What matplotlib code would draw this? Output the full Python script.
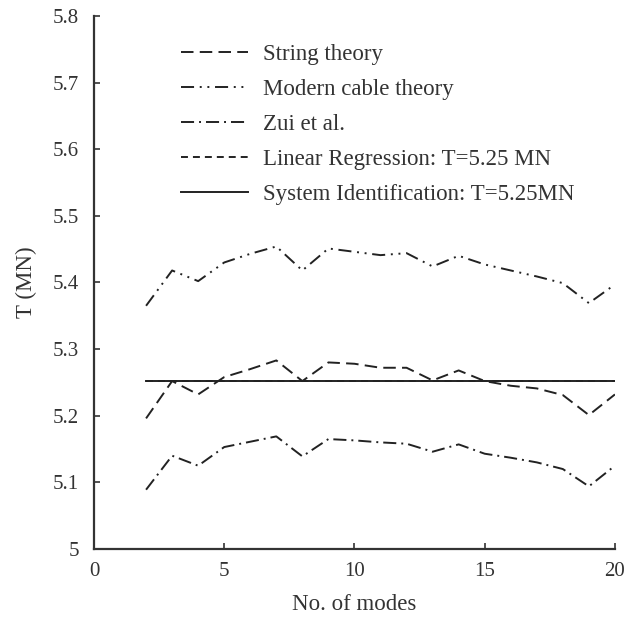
import matplotlib
matplotlib.use("Agg")
import matplotlib.pyplot as plt

plt.rcParams['font.family'] = ['Liberation Serif', 'DejaVu Serif']
plt.rcParams['lines.scale_dashes'] = False

# data
modes = [2, 3, 4, 5, 6, 7, 8, 9, 10, 11, 12, 13, 14, 15, 16, 17, 18, 19, 20]
string_theory = [5.196, 5.252, 5.232, 5.258, 5.270, 5.283, 5.252, 5.280, 5.278, 5.272, 5.272,
                 5.253, 5.268, 5.252, 5.245, 5.241, 5.231, 5.201, 5.232]
modern_cable = [5.365, 5.418, 5.402, 5.430, 5.443, 5.454, 5.418, 5.451, 5.446, 5.441, 5.444,
                5.424, 5.440, 5.427, 5.418, 5.409, 5.399, 5.369, 5.397]
zui = [5.089, 5.140, 5.125, 5.153, 5.161, 5.169, 5.139, 5.165, 5.163, 5.160, 5.158,
       5.146, 5.157, 5.143, 5.137, 5.130, 5.120, 5.094, 5.125]
linreg_T = 5.252
sysid_T = 5.252

ink = '#222222'
fig = plt.figure(figsize=(6.32, 6.17), dpi=100)
ax = fig.add_axes([0.1487, 0.1102, 0.8243, 0.864])

ax.plot(modes, string_theory, color=ink, lw=1.4, ls=(0, (9, 4.5)), label='String theory')
ax.plot(modes, modern_cable, color=ink, lw=1.4, ls=(0, (9.4, 4.1, 1.4, 4.1, 1.4, 4.1)),
        label='Modern cable theory')
ax.plot(modes, zui, color=ink, lw=1.4, ls=(0, (9.4, 3.6, 1.4, 3.6)), label='Zui et al.')
ax.plot([modes[0], modes[-1]], [linreg_T, linreg_T], color=ink, lw=1.4, ls=(0, (5, 3.6)),
        label='Linear Regression: T=5.25 MN')
ax.plot([modes[0], modes[-1]], [sysid_T, sysid_T], color=ink, lw=1.4, ls='-',
        label='System Identification: T=5.25MN')

ax.set_xlim(0, 20)
ax.set_ylim(5, 5.8)
ax.set_xticks([0, 5, 10, 15, 20])
ax.set_yticks([5, 5.1, 5.2, 5.3, 5.4, 5.5, 5.6, 5.7, 5.8])
ax.set_yticklabels(['5', '5.1', '5.2', '5.3', '5.4', '5.5', '5.6', '5.7', '5.8'])
ax.tick_params(direction='in', labelsize=15, length=4, width=1.2, color='#333333', labelcolor='#333333')
ax.tick_params(axis='x', pad=9)
ax.tick_params(axis='y', pad=11)
ax.spines['top'].set_visible(False)
ax.spines['right'].set_visible(False)
for s in ['left', 'bottom']:
    ax.spines[s].set_color('#333333')
    ax.spines[s].set_linewidth(1.6)

ax.set_xlabel('No. of modes', fontsize=16.5, color='#333333', labelpad=10)
ax.set_ylabel('T (MN)', fontsize=16.5, color='#333333', labelpad=11)

ax.legend(loc='upper left', bbox_to_anchor=(0.168, 0.948), frameon=False, fontsize=16.5,
          handlelength=2.92, labelspacing=0.61, handletextpad=0.64, borderpad=0,
          borderaxespad=0, labelcolor='#333333')

plt.savefig('out.png', dpi=100)
